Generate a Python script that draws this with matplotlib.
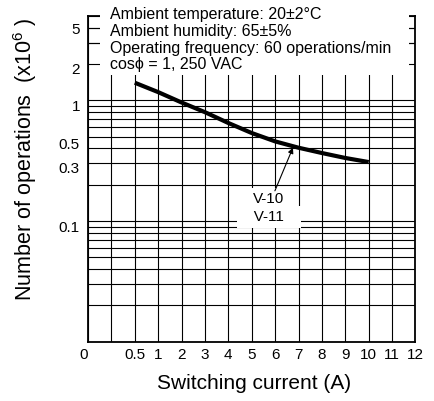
import matplotlib
matplotlib.use("Agg")
import numpy as np
import matplotlib.pyplot as plt
from matplotlib.patches import Rectangle
from matplotlib.transforms import blended_transform_factory, ScaledTranslation
from matplotlib.ticker import FixedLocator, NullFormatter

plt.rcParams['font.family'] = ['Liberation Sans', 'DejaVu Sans']
plt.rcParams['mathtext.fontset'] = 'custom'
plt.rcParams['mathtext.rm'] = 'Liberation Sans'
plt.rcParams['mathtext.it'] = 'Liberation Sans:italic'
plt.rcParams['mathtext.bf'] = 'Liberation Sans:bold'

# ---- data ----
current_a = [0.5, 1, 2, 3, 4, 5, 6, 7, 8, 9, 10]
operations_e6 = [1.40, 1.17, 0.96, 0.798, 0.649, 0.536, 0.457, 0.405, 0.366, 0.333, 0.308]

x_tick_values = [0, 0.5, 1, 2, 3, 4, 5, 6, 7, 8, 9, 10, 11, 12]
x_tick_labels = ['0', '0.5', '1', '2', '3', '4', '5', '6', '7', '8', '9', '10', '11', '12']
x_extra_grid = [0.25]

y_tick_values = [5, 2, 1, 0.5, 0.3, 0.1]
y_tick_labels = ['5', '2', '1', '0.5', '0.3', '0.1']
y_label_shift_px = [14, 6, 7, 8, 6, 7]

conditions = ["Ambient temperature: 20\u00b12\u00b0C",
              "Ambient humidity: 65\u00b15%",
              "Operating frequency: 60 operations/min",
              "cos\u03d5 = 1, 250 VAC"]
model_labels = ['V-10', '   V-11   ']
arrow_tip = (6.76, 0.405)
arrow_tail = (5.99, 0.178)
label_pos = [(5.74, 0.153), (5.74, 0.108)]

# ---- axis mapping (non-uniform current axis) ----
xp_val = [0, 0.5, 1, 12]
xp_pos = [0, 2, 3, 14]


def fwd(x):
    return np.interp(np.asarray(x, dtype=float), xp_val, xp_pos)


def inv(p):
    return np.interp(np.asarray(p, dtype=float), xp_pos, xp_val)


W, H, DPI = 435, 401, 100
fig = plt.figure(figsize=(W / DPI, H / DPI), dpi=DPI)
ax = fig.add_axes([88 / W, 1 - 341.7 / H, 327.5 / W, 325.7 / H])

ax.set_xscale('function', functions=(fwd, inv))
ax.set_yscale('log')

ax.plot(current_a, operations_e6, color='black', lw=3.0, solid_capstyle='butt',
        solid_joinstyle='round', zorder=3)

ax.set_xlim(0, 12)
ax.set_ylim(0.01, 5)

ax.xaxis.set_major_locator(FixedLocator(x_tick_values))
ax.set_xticklabels(x_tick_labels, fontsize=11)
ax.xaxis.set_minor_locator(FixedLocator(x_extra_grid))
ax.xaxis.set_minor_formatter(NullFormatter())

grid_vals = [k * 10.0 ** e for e in (-2, -1, 0) for k in range(1, 10)] + [1, 2, 3, 4, 5]
ax.yaxis.set_major_locator(FixedLocator(y_tick_values))
ax.yaxis.set_major_formatter(NullFormatter())
ax.yaxis.set_minor_locator(FixedLocator(grid_vals))
ax.yaxis.set_minor_formatter(NullFormatter())

ax.tick_params(which='both', length=0)
ax.tick_params(axis='x', pad=4.5)
ax.grid(True, which='both', color='black', lw=0.8)
ax.set_axisbelow(True)
for s in ax.spines.values():
    s.set_linewidth(1.3)

ax.get_xticklabels()[0].set_ha('right')

# y tick labels (offset as in the reference)
btr = blended_transform_factory(ax.transAxes, ax.transData)
for v, lab, sh in zip(y_tick_values, y_tick_labels, y_label_shift_px):
    tr = btr + ScaledTranslation(-8 / DPI, -sh / DPI, fig.dpi_scale_trans)
    ax.text(0, v, lab, transform=tr, ha='right', va='center', fontsize=11, clip_on=False)

ax.set_xlabel('Switching current (A)', fontsize=15)
ax.xaxis.label.set_va('center')
ax.xaxis.set_label_coords(0.507, -0.127)
ax.set_ylabel(r'Number of operations  (x10$^{6}$ )', fontsize=15.5)
ax.yaxis.label.set_va('center')
ax.yaxis.set_label_coords(-0.192, 0.561)

# model labels and arrow
for (x, y), lab in zip(label_pos, model_labels):
    ax.text(x, y, lab, ha='center', va='center', fontsize=11, zorder=4,
            bbox=dict(boxstyle='square,pad=0.25', facecolor='white', edgecolor='none'))
ax.annotate('', xy=arrow_tip, xytext=arrow_tail, zorder=5,
            arrowprops=dict(arrowstyle='-|>', color='black', lw=0.8,
                            mutation_scale=8, shrinkA=0, shrinkB=0))

# condition box
fig.add_artist(Rectangle((100 / W, 1 - 75 / H), 308.5 / W, 75 / H, transform=fig.transFigure,
                         facecolor='white', edgecolor='none', zorder=1))
baselines = [19, 35.8, 52.6, 69.4]
for t, b in zip(conditions, baselines):
    fig.text(110 / W, 1 - b / H, t, ha='left', va='baseline', fontsize=11.5, zorder=2)

fig.savefig('out.png', dpi=DPI)
